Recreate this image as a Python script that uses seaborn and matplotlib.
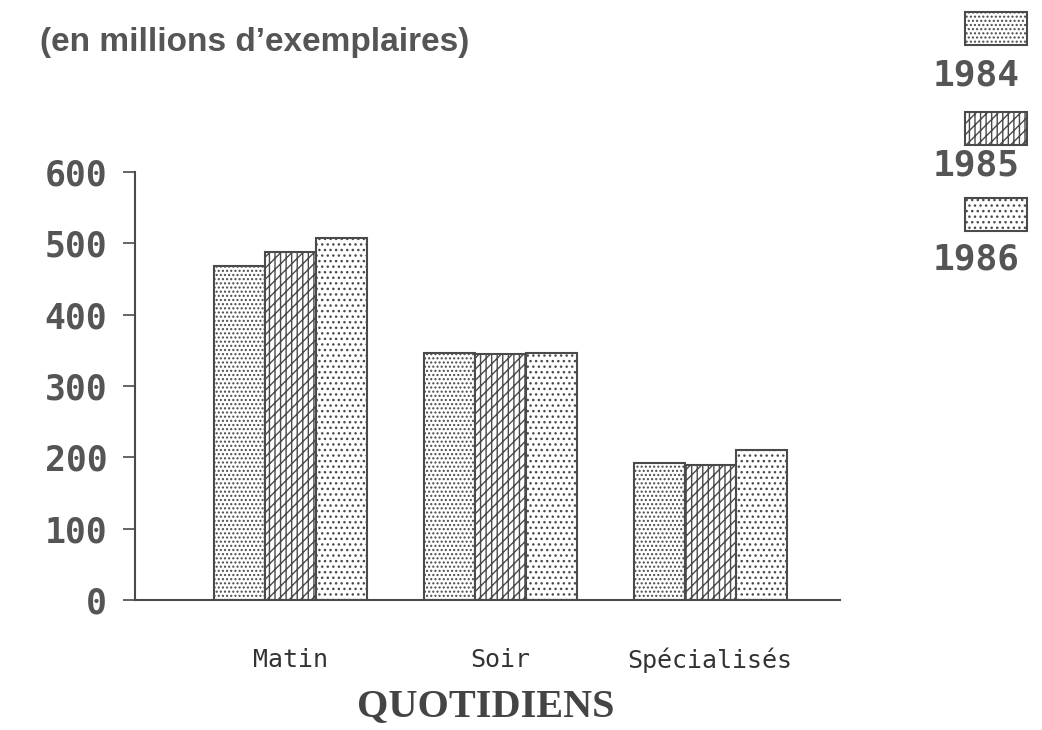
import matplotlib
matplotlib.use("Agg")
import matplotlib.pyplot as plt
import seaborn as sns
import pandas as pd
from matplotlib.patches import Rectangle

categories = ["Matin", "Soir", "Spécialisés"]
years = ["1984", "1985", "1986"]
values_1984 = [468, 346, 192]
values_1985 = [488, 345, 189]
values_1986 = [507, 346, 210]
yticks = [0, 100, 200, 300, 400, 500, 600]

rows = []
for yr, vals in zip(years, [values_1984, values_1985, values_1986]):
    for c, v in zip(categories, vals):
        rows.append({"cat": c, "year": yr, "val": v})
df = pd.DataFrame(rows)

sns.set_style("white")
plt.rcParams["hatch.linewidth"] = 1.0
plt.rcParams["font.family"] = ["DejaVu Sans"]

gray = "#4a4a4a"
hatches = ["....", "|||///", "..."]

fig = plt.figure(figsize=(10.42, 7.30), dpi=100)
ax = fig.add_axes([135/1042, 1-600/730, (840-135)/1042, (600-172)/730])

sns.barplot(data=df, x="cat", y="val", hue="year", order=categories, hue_order=years,
            palette=["white"]*3, width=0.73, edgecolor=gray, linewidth=1.5,
            legend=False, ax=ax)
for cont, h in zip(ax.containers, hatches):
    for p in cont:
        p.set_hatch(h)
        p.set_edgecolor(gray)

ax.set_xlim(-0.743, 2.62)
ax.set_ylim(0, 600)
ax.set_yticks(yticks)
ax.set_yticklabels([str(t) for t in yticks], family="DejaVu Sans Mono", fontweight="bold",
                   fontsize=25, color="#555555")
ax.set_xticks(range(len(categories)))
ax.set_xticklabels(categories, family="DejaVu Sans Mono", fontsize=18, color="#333333")
ax.tick_params(axis="y", left=True, length=9, width=1.2, color=gray, pad=11)
ax.tick_params(axis="x", bottom=False, pad=31)
for s in ["top", "right"]:
    ax.spines[s].set_visible(False)
for s in ["left", "bottom"]:
    ax.spines[s].set_color(gray)
    ax.spines[s].set_linewidth(1.5)
ax.set_xlabel("")
ax.set_ylabel("")

fig.text(486/1042, 1-707/730, "QUOTIDIENS", family="Liberation Serif", fontweight="bold",
         fontsize=29, color="#444444", ha="center", va="center")
fig.text(40/1042, 1-42/730, "(en millions d\u2019exemplaires)", family="Liberation Sans",
         fontweight="bold", fontsize=24, color="#555555", ha="left", va="center")

# legend
leg_boxes = [(12, 45), (112, 145), (198, 231)]
leg_text_y = [75, 165, 260]
for yr, h, (t, b), ty in zip(years, hatches, leg_boxes, leg_text_y):
    fig.patches.append(Rectangle((965/1042, 1-b/730), 62/1042, (b-t)/730,
                                 transform=fig.transFigure, facecolor="white",
                                 edgecolor=gray, hatch=h, linewidth=1.5))
    fig.text(976/1042, 1-ty/730, yr, family="DejaVu Sans Mono", fontweight="bold",
             fontsize=26, color="#555555", ha="center", va="center")

fig.savefig("out.png", dpi=100)
